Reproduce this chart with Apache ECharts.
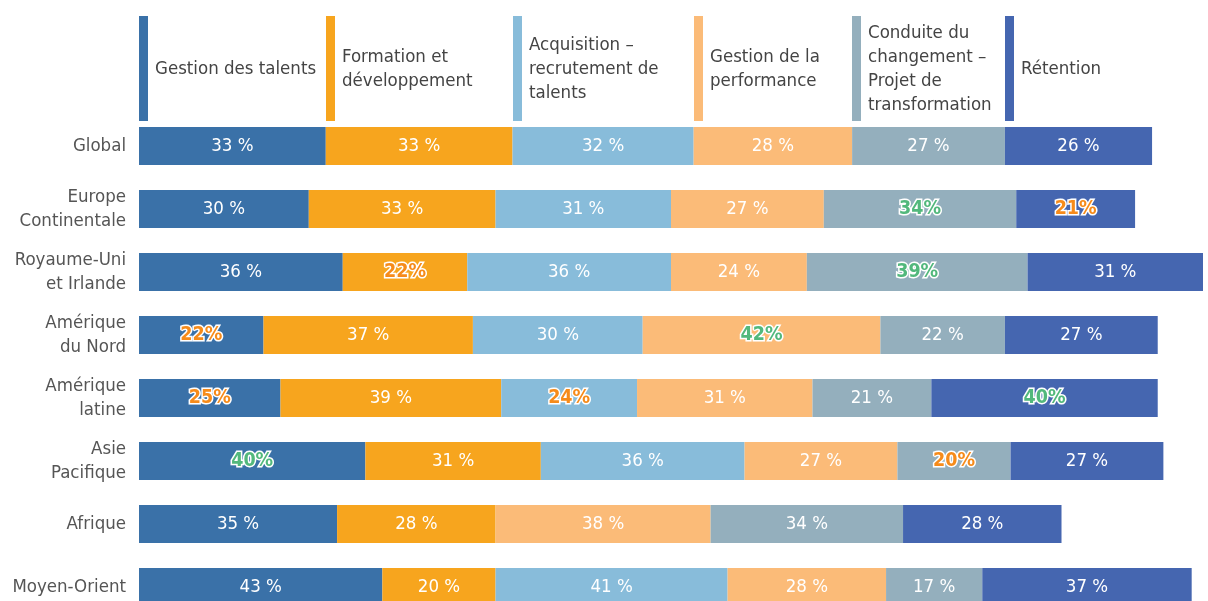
<!DOCTYPE html>
<html>
<head>
<meta charset="utf-8">
<script src="https://cdn.jsdelivr.net/npm/echarts@6/dist/echarts.min.js"></script>
<style>
  html, body { margin: 0; padding: 0; background: #fff; }
  #chart { width: 1208px; height: 601px; }
</style>
</head>
<body>
<div id="chart"></div>
<script>
// données
const regions = ['Global', 'Europe\nContinentale', 'Royaume-Uni\net Irlande', 'Amérique\ndu Nord',
  'Amérique\nlatine', 'Asie\nPacifique', 'Afrique', 'Moyen-Orient']
const themes = ['Gestion des talents', 'Formation et\ndéveloppement', 'Acquisition –\nrecrutement de\ntalents',
  'Gestion de la\nperformance', 'Conduite du\nchangement –\nProjet de\ntransformation', 'Rétention']
const talents = [33, 30, 36, 22, 25, 40, 35, 43]
const formation = [33, 33, 22, 37, 39, 31, 28, 20]
const acquisition = [32, 31, 36, 30, 24, 36, null, 41]
const performance = [28, 27, 24, 42, 31, 27, 38, 28]
const conduite = [27, 34, 39, 22, 21, 20, 34, 17]
const retention = [26, 21, 31, 27, 40, 27, 28, 37]
// [ligne, thème] mis en évidence
const highCells = [[1, 4], [2, 4], [3, 3], [4, 5], [5, 0]]
const lowCells = [[1, 5], [2, 1], [3, 0], [4, 0], [4, 2], [5, 4]]

const colors = ['#3a71a8', '#f7a51e', '#88bcda', '#fbbb78', '#94afbd', '#4566b0']
const font = "'Liberation Sans Narrow', 'DejaVu Sans Condensed', sans-serif"
const values = [talents, formation, acquisition, performance, conduite, retention]

const chart = echarts.init(document.getElementById('chart'))

function mark (row, col) {
  if (highCells.some(c => c[0] === row && c[1] === col)) return 'high'
  if (lowCells.some(c => c[0] === row && c[1] === col)) return 'low'
  return null
}

const series = values.map((arr, col) => ({
  name: themes[col],
  type: 'bar',
  stack: 'total',
  barWidth: 38,
  itemStyle: { color: colors[col] },
  label: {
    show: true,
    position: 'inside',
    fontFamily: font,
    fontSize: 18.5,
    color: '#fff',
    formatter: p => p.value + ' %'
  },
  data: arr.map((v, row) => {
    const m = mark(row, col)
    if (v == null || !m) return v
    return {
      value: v,
      label: {
        formatter: p => p.value + '%',
        fontWeight: 'bold',
        fontSize: 19.5,
        color: m === 'high' ? '#52b87c' : '#f68b1a',
        textBorderColor: '#fff',
        textBorderWidth: 3
      }
    }
  })
}))

const option = {
  animation: false,
  grid: { left: 139, top: 114.5, width: 1064, height: 504, outerBoundsMode: 'none', containLabel: false },
  xAxis: { type: 'value', min: 0, max: 188, show: false },
  yAxis: {
    type: 'category',
    inverse: true,
    data: regions,
    axisLine: { show: false },
    axisTick: { show: false },
    axisLabel: { margin: 13, fontFamily: font, fontSize: 18.5, color: '#555', lineHeight: 24 }
  },
  series: series
}
chart.setOption(option)

// légende alignée sur la ligne « Global »
const graphics = []
let acc = 0
values.forEach((arr, col) => {
  const x = chart.convertToPixel({ xAxisIndex: 0 }, acc)
  acc += arr[0]
  graphics.push({
    type: 'rect',
    shape: { x: Math.round(x), y: 16, width: 9, height: 105 },
    style: { fill: colors[col] }
  })
  graphics.push({
    type: 'text',
    x: Math.round(x) + 16,
    y: 69,
    style: {
      text: themes[col],
      fontFamily: font,
      fontSize: 18.5,
      lineHeight: 24,
      fill: '#444',
      verticalAlign: 'middle'
    }
  })
})
chart.setOption({ graphic: graphics })
</script>
</body>
</html>
